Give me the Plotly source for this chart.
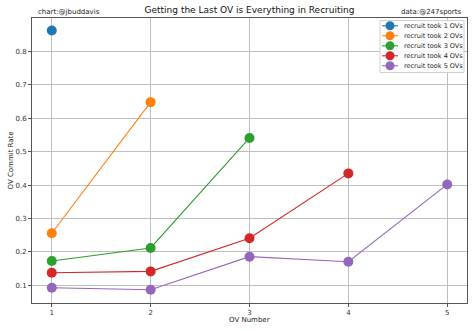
import plotly.graph_objects as go

ov_numbers = [1, 2, 3, 4, 5]
took1 = [0.862]
took2 = [0.256, 0.648]
took3 = [0.173, 0.212, 0.541]
took4 = [0.138, 0.142, 0.241, 0.435]
took5 = [0.093, 0.087, 0.186, 0.171, 0.402]
series_names = ["recruit took 1 OVs", "recruit took 2 OVs", "recruit took 3 OVs",
                "recruit took 4 OVs", "recruit took 5 OVs"]
colors = ["#1f77b4", "#ff7f0e", "#2ca02c", "#d62728", "#9467bd"]

W, H = 474, 331
ML, MR, MT, MB = 32, 7, 18, 28
PW, PH = W - ML - MR, H - MT - MB

def px(x):
    return (x - ML) / PW

def py(y):
    return (H - MB - y) / PH

fig = go.Figure()
for name, vals, c in zip(series_names, [took1, took2, took3, took4, took5], colors):
    fig.add_trace(go.Scatter(
        x=ov_numbers[:len(vals)], y=vals, name=name, mode="lines+markers",
        line=dict(color=c, width=1.1), marker=dict(color=c, size=10),
        showlegend=False,
    ))

# custom compact legend (matplotlib-like)
shapes = [dict(type="rect", xref="paper", yref="paper",
               x0=px(380), x1=px(464), y0=py(20.5), y1=py(72.5),
               line=dict(color="#d0d0d0", width=1), fillcolor="rgba(255,255,255,0.85)",
               layer="above")]
annotations = []
for i, (name, c) in enumerate(zip(series_names, colors)):
    yy = 25.8 + i * 10.0
    shapes.append(dict(type="line", xref="paper", yref="paper",
                       x0=px(382), x1=px(398), y0=py(yy), y1=py(yy),
                       line=dict(color=c, width=1.1), layer="above"))
    shapes.append(dict(type="circle", xref="paper", yref="paper",
                       xsizemode="pixel", ysizemode="pixel",
                       xanchor=px(390), yanchor=py(yy),
                       x0=-4.5, x1=4.5, y0=-4.5, y1=4.5,
                       fillcolor=c, line=dict(color=c, width=0), layer="above"))
    annotations.append(dict(text=name, xref="paper", yref="paper",
                            x=px(401.5), y=py(yy), xanchor="left", yanchor="middle",
                            showarrow=False, font=dict(size=6.5, color="#222222")))

annotations += [
    dict(text="chart:@jbuddavis", xref="paper", yref="paper", x=0.01, y=1.0,
         xanchor="left", yanchor="bottom", showarrow=False,
         font=dict(size=7, color="#222222")),
    dict(text="data:@247sports", xref="paper", yref="paper", x=0.99, y=1.0,
         xanchor="right", yanchor="bottom", showarrow=False,
         font=dict(size=7, color="#222222")),
    dict(text="OV Commit Rate", xref="paper", yref="paper", x=px(10), y=0.5,
         xanchor="center", yanchor="middle", textangle=-90, showarrow=False,
         font=dict(size=7, color="#222222")),
    dict(text="OV Number", xref="paper", yref="paper", x=0.5, y=py(320),
         xanchor="center", yanchor="middle", showarrow=False,
         font=dict(size=7, color="#222222")),
]

axis_common = dict(showgrid=True, gridcolor="#bfbfbf", gridwidth=1,
                   showline=True, linecolor="#555555", linewidth=1, mirror=True,
                   ticks="outside", ticklen=3, tickcolor="#555555",
                   tickfont=dict(size=7, color="#333333", family="DejaVu Sans"),
                   zeroline=False, automargin=False)

fig.update_layout(
    width=W, height=H,
    margin=dict(l=ML, r=MR, t=MT, b=MB),
    paper_bgcolor="white", plot_bgcolor="white",
    font=dict(family="DejaVu Sans", color="#222222"),
    xaxis=dict(range=[0.8, 5.2], tickvals=ov_numbers, **axis_common),
    yaxis=dict(range=[0.0475, 0.8995], tickvals=[0.1, 0.2, 0.3, 0.4, 0.5, 0.6, 0.7, 0.8, 0.9],
               ticktext=["0.1", "0.2", "0.3", "0.4", "0.5", "0.6", "0.7", "0.8", "0.9"],
               **axis_common),
    showlegend=False,
    title=dict(text="Getting the Last OV is Everything in Recruiting",
               x=0.5, xref="paper", y=1 - 10 / H, yanchor="middle",
               font=dict(size=9, color="#111111")),
    shapes=shapes,
    annotations=annotations,
)

fig.write_html("out.html")
